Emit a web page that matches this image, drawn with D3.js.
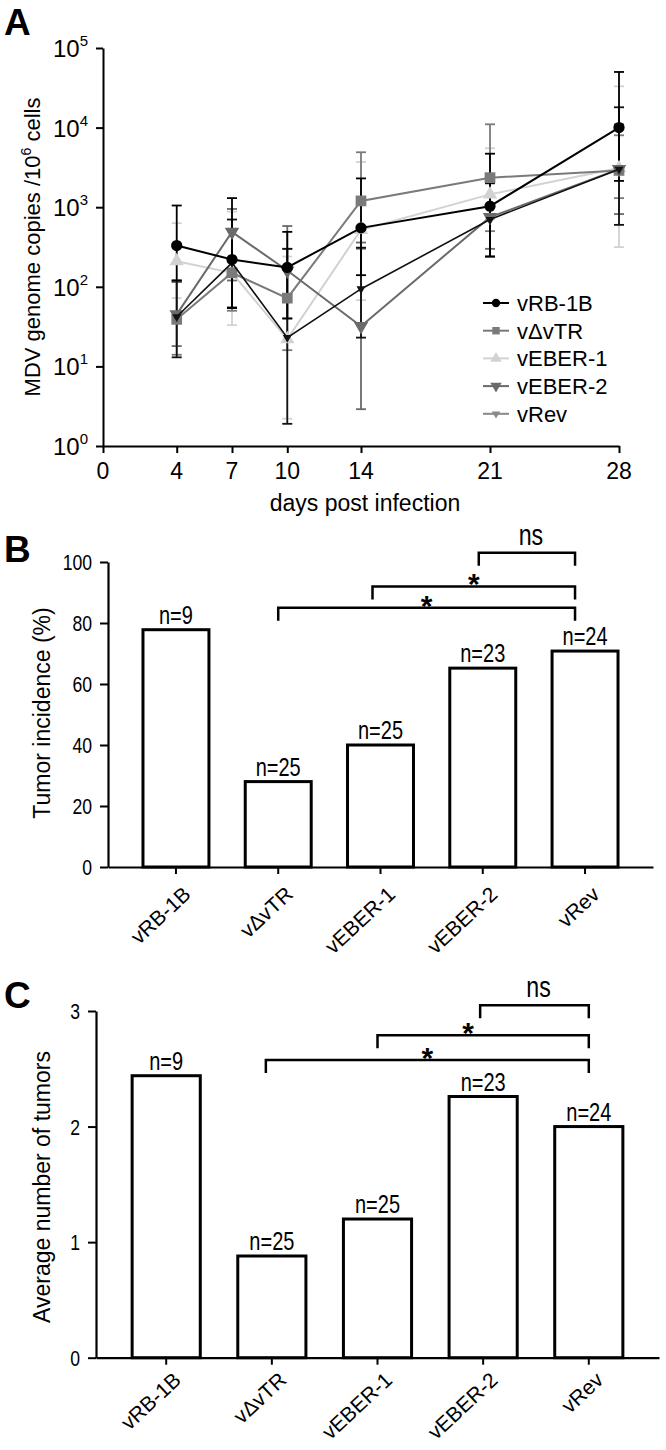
<!DOCTYPE html>
<html><head><meta charset="utf-8">
<script src="https://cdn.jsdelivr.net/npm/d3@7"></script>
<style>
body{margin:0;background:#fff}
text{font-family:'Liberation Sans',Arial,sans-serif;fill:#000}
</style>
</head><body>
<svg id="c" width="666" height="1450"></svg>
<script>
// ---------- Panel A data ----------
const days = [4, 7, 10, 14, 21, 28];
const seriesNames = ["vRB-1B", "vΔvTR", "vEBER-1", "vEBER-2", "vRev"];
const rb1bMean = [330, 220, 175, 550, 1030, 10000];
const rb1bLow  = [120, 54, 40, 140, 240, 2140];
const rb1bHigh = [1050, 1300, 490, 2300, 4700, 50000];
const dvtrMean = [39, 150, 72, 1200, 2350, 2900];
const dvtrLow  = [14, 50, 16, 300, 500, 1300];
const dvtrHigh = [115, 500, 300, 4900, 11000, 8000];
const eber1Mean = [210, 150, 22, 520, 1450, 3100];
const eber1Low  = [72, 33, 2.2, 68, 700, 315];
const eber1High = [630, 880, 240, 3700, 5500, 33000];
const eber2Mean = [45, 490, 160, 32, 750, 3000];
const eber2Low  = [18, 120, 40, 2.9, 300, 820];
const eber2High = [115, 950, 580, 360, 2000, 11000];
const revMean = [42, 200, 23, 94, 700, 3000];
const revLow  = [13, 55, 1.9, 23, 240, 600];
const revHigh = [120, 700, 300, 310, 2000, 18000];
const xTicksA = [0, 4, 7, 10, 14, 21, 28];
const yTickExpA = [0, 1, 2, 3, 4, 5];

// ---------- Panel B / C data ----------
const incidence = [77.8, 28, 40, 65.2, 70.8];
const avgTumors = [2.44, 0.88, 1.2, 2.26, 2.0];
const groupN = [9, 25, 25, 23, 24];
const yTicksB = [0, 20, 40, 60, 80, 100];
const yTicksC = [0, 1, 2, 3];
// significance brackets: [from, to, label]
const sigPairs = [["vΔvTR", "vRev", "*"], ["vEBER-1", "vRev", "*"], ["vEBER-2", "vRev", "ns"]];
const sigLevelsB = [85, 92, 103];
const sigLevelsC = [2.575, 2.79, 3.05];

const svg = d3.select("#c");

// narrow text helper (condensed look)
function narrowText(g, x, y, txt, size, anchor) {
  return g.append("text").attr("transform", `translate(${x},${y}) scale(0.8,1)`)
    .attr("text-anchor", anchor).attr("font-size", size).text(txt);
}

// ================= Panel A =================
const series = [
  {name: seriesNames[0], mean: rb1bMean, lo: rb1bLow, hi: rb1bHigh, color: "#000", legend: "#000", sym: d3.symbolCircle, size: 100, rot: 0, lw: 2},
  {name: seriesNames[1], mean: dvtrMean, lo: dvtrLow, hi: dvtrHigh, color: "#7a7a7a", legend: "#7a7a7a", sym: d3.symbolSquare, size: 115, rot: 0, lw: 2},
  {name: seriesNames[2], mean: eber1Mean, lo: eber1Low, hi: eber1High, color: "#d2d2d2", legend: "#d2d2d2", sym: d3.symbolTriangle, size: 90, rot: 0, lw: 2},
  {name: seriesNames[3], mean: eber2Mean, lo: eber2Low, hi: eber2High, color: "#6a6a6a", legend: "#6a6a6a", sym: d3.symbolTriangle, size: 90, rot: 180, lw: 2},
  {name: seriesNames[4], mean: revMean, lo: revLow, hi: revHigh, color: "#111", legend: "#888", sym: d3.symbolTriangle, size: 35, rot: 180, lw: 1.6}
];
const drawOrder = [2, 1, 3, 4, 0];

const xA = d3.scaleLinear([0, 28], [103, 619]);
const yA = d3.scaleLog([1, 1e5], [446, 48]);
const gA = svg.append("g");

gA.append("text").attr("x", 4).attr("y", 35).attr("font-size", 37).attr("font-weight", "bold").text("A");

// y axis
const yAxA = gA.append("g").attr("transform", `translate(${xA(0)},0)`)
  .call(d3.axisLeft(yA).tickValues(yTickExpA.map(e => Math.pow(10, e))).tickFormat("").tickSize(7).tickSizeOuter(0));
yAxA.select(".domain").attr("stroke-width", 2);
yAxA.selectAll(".tick line").attr("stroke-width", 2);
yTickExpA.forEach(e => {
  const t = gA.append("text").attr("x", 88).attr("y", yA(Math.pow(10, e)) + 9)
    .attr("text-anchor", "end").attr("font-size", 24);
  t.append("tspan").text("10");
  t.append("tspan").attr("font-size", 15).attr("dy", -11).text(e);
});
// x axis
const xAxA = gA.append("g").attr("transform", `translate(0,${yA(1)})`)
  .call(d3.axisBottom(xA).tickValues(xTicksA).tickFormat("").tickSize(7).tickSizeOuter(0));
xAxA.select(".domain").attr("stroke-width", 2);
xAxA.selectAll(".tick line").attr("stroke-width", 2);
xTicksA.forEach(d => {
  gA.append("text").attr("x", xA(d)).attr("y", 479).attr("text-anchor", "middle").attr("font-size", 23).text(d);
});
gA.append("text").attr("x", 365).attr("y", 511).attr("text-anchor", "middle").attr("font-size", 23).text("days post infection");
const ylab = gA.append("text").attr("transform", "translate(40,247) rotate(-90)").attr("text-anchor", "middle").attr("font-size", 22);
ylab.append("tspan").text("MDV genome copies /10");
ylab.append("tspan").attr("font-size", 14).attr("dy", -9).text("6");
ylab.append("tspan").attr("dy", 9).text(" cells");

// error bars
drawOrder.forEach(i => {
  const s = series[i];
  const g = gA.append("g").attr("stroke", s.color).attr("stroke-width", 1.8).attr("fill", "none");
  days.forEach((d, j) => {
    const cx = xA(d);
    g.append("line").attr("x1", cx).attr("x2", cx).attr("y1", yA(s.lo[j])).attr("y2", yA(s.hi[j]));
    g.append("line").attr("x1", cx - 5).attr("x2", cx + 5).attr("y1", yA(s.lo[j])).attr("y2", yA(s.lo[j]));
    g.append("line").attr("x1", cx - 5).attr("x2", cx + 5).attr("y1", yA(s.hi[j])).attr("y2", yA(s.hi[j]));
  });
});
// lines + markers
const lineGen = d3.line().x((d, j) => xA(days[j])).y(d => yA(d));
drawOrder.forEach(i => {
  const s = series[i];
  gA.append("path").attr("d", lineGen(s.mean)).attr("fill", "none").attr("stroke", s.color).attr("stroke-width", s.lw);
  s.mean.forEach((v, j) => {
    gA.append("path").attr("d", d3.symbol(s.sym, s.size)())
      .attr("transform", `translate(${xA(days[j])},${yA(v)}) rotate(${s.rot})`)
      .attr("fill", s.color);
  });
});
// legend
series.forEach((s, i) => {
  const ly = 303 + i * 27.7;
  gA.append("line").attr("x1", 483).attr("x2", 509).attr("y1", ly).attr("y2", ly).attr("stroke", s.legend).attr("stroke-width", 2);
  gA.append("path").attr("d", d3.symbol(s.sym, i === 4 ? 30 : 55)())
    .attr("transform", `translate(496,${ly}) rotate(${s.rot})`).attr("fill", s.legend);
  gA.append("text").attr("x", 517).attr("y", ly).attr("dy", "0.36em").attr("font-size", 22).text(s.name);
});

// ================= Bar panels =================
function barPanel(cfg) {
  const g = svg.append("g");
  const x = d3.scaleBand(seriesNames, cfg.xRange).paddingInner(0.355).paddingOuter(0.342);
  const y = d3.scaleLinear(cfg.yDomain, cfg.yRange);
  g.append("text").attr("x", 4).attr("y", cfg.letterY).attr("font-size", 37).attr("font-weight", "bold").text(cfg.letter);
  const ya = g.append("g").attr("transform", `translate(${cfg.xRange[0]},0)`)
    .call(d3.axisLeft(y).tickValues(cfg.yTicks).tickFormat("").tickSize(8).tickSizeOuter(0));
  ya.select(".domain").attr("stroke-width", 2.2);
  ya.selectAll(".tick line").attr("stroke-width", 2);
  cfg.yTicks.forEach(t => {
    narrowText(g, cfg.xRange[0] - 16, y(t) + 8, t, 22, "end");
  });
  const xa = g.append("g").attr("transform", `translate(0,${y(0)})`)
    .call(d3.axisBottom(x).tickFormat("").tickSize(7).tickSizeOuter(0));
  xa.select(".domain").attr("stroke-width", 2.2);
  xa.selectAll(".tick line").attr("stroke-width", 2);
  seriesNames.forEach(n => {
    g.append("text").attr("transform", `translate(${x(n) + x.bandwidth() / 2 + 16},${y(0) + cfg.labelDrop}) rotate(-43)`)
      .attr("text-anchor", "end").attr("font-size", 21).text(n);
  });
  g.append("text").attr("transform", `translate(42,${cfg.labelY}) rotate(-90)`).attr("text-anchor", "middle")
    .attr("dy", "0.36em").attr("font-size", 23).text(cfg.yLabel);
  // bars
  g.selectAll("rect.bar").data(cfg.values).join("rect")
    .attr("x", (d, i) => x(seriesNames[i])).attr("width", x.bandwidth())
    .attr("y", d => y(d)).attr("height", d => y(0) - y(d))
    .attr("fill", "#fff").attr("stroke", "#000").attr("stroke-width", 3);
  cfg.values.forEach((v, i) => {
    narrowText(g, x(seriesNames[i]) + x.bandwidth() / 2, y(v) - 6, "n=" + groupN[i], 25, "middle");
  });
  // brackets
  sigPairs.forEach((p, i) => {
    const x1 = x(p[0]) + x.bandwidth() / 2 + cfg.leftInset[i];
    const x2 = x(p[1]) + x.bandwidth() / 2 - cfg.rightInset;
    const yt = y(cfg.sigLevels[i]);
    g.append("path").attr("d", `M${x1},${yt + 13}V${yt}H${x2}V${yt + 13}`)
      .attr("fill", "none").attr("stroke", "#000").attr("stroke-width", 2.5);
    if (p[2] === "ns") {
      narrowText(g, (x1 + x2) / 2 + 4, yt - 8, p[2], 29, "middle");
    } else {
      g.append("text").attr("x", (x1 + x2) / 2 + cfg.starShift[i]).attr("y", yt + 8)
        .attr("text-anchor", "middle").attr("font-size", 30).attr("font-weight", "bold").text(p[2]);
    }
  });
}

barPanel({letter: "B", letterY: 562, xRange: [108, 653], yDomain: [0, 100], yRange: [867, 562],
  yTicks: yTicksB, values: incidence, yLabel: "Tumor incidence (%)", labelY: 713, labelDrop: 29,
  sigLevels: sigLevelsB, leftInset: [0, -8, -4], rightInset: 10, starShift: [0, 0, 0]});
barPanel({letter: "C", letterY: 1008, xRange: [96, 659], yDomain: [0, 3], yRange: [1357.7, 1011],
  yTicks: yTicksC, values: avgTumors, yLabel: "Average number of tumors", labelY: 1187, labelDrop: 24,
  sigLevels: sigLevelsC, leftInset: [-6, 0, -3], rightInset: 0, starShift: [0, -15, 0]});
</script>
</body></html>
